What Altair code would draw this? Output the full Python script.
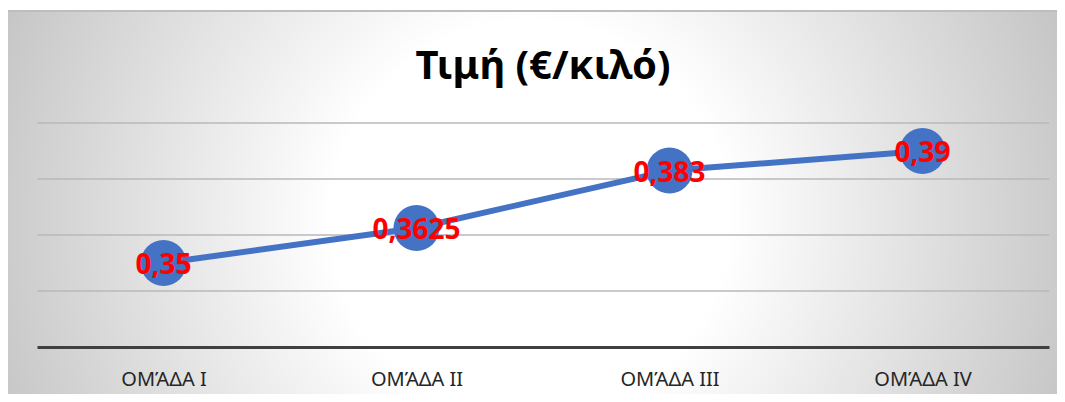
import altair as alt
import pandas as pd

categories = ["ΟΜΆΔΑ I", "ΟΜΆΔΑ II", "ΟΜΆΔΑ III", "ΟΜΆΔΑ IV"]
values = [0.35, 0.3625, 0.383, 0.39]
labels = ["0,35", "0,3625", "0,383", "0,39"]
grid_values = [0.34, 0.36, 0.38, 0.40]
title_text = ["Τιμή (€/κιλό)"]

df = pd.DataFrame({"cat": categories, "val": values, "lab": labels})
grid_df = pd.DataFrame({"g": grid_values})
one = pd.DataFrame({"a": [0]})
title_df = pd.DataFrame({"t": title_text})

W, H = 1012, 224
yscale = alt.Scale(domain=[0.32, 0.40], nice=False, zero=False)
xscale = alt.Scale(type="point", padding=0.5)

# decorative radial background (square so the gradient is circular)
bg = alt.Chart(one).mark_rect(
    fill={
        "gradient": "radial",
        "x1": 0.5, "y1": 0.5, "r1": 0,
        "x2": 0.5, "y2": 0.5, "r2": 0.5,
        "stops": [
            {"offset": 0, "color": "#ffffff"},
            {"offset": 0.33, "color": "#ffffff"},
            {"offset": 1, "color": "#c0c0c0"},
        ],
    }
).encode(
    x=alt.value(-107), x2=alt.value(1093), y=alt.value(-503), y2=alt.value(697)
)

top_cover = alt.Chart(one).mark_rect(fill="#ffffff").encode(
    x=alt.value(-40), x2=alt.value(1040), y=alt.value(-120), y2=alt.value(-113)
)
top_border = alt.Chart(one).mark_rule(color="#bdbdbd", strokeWidth=2).encode(
    x=alt.value(-30), x2=alt.value(1030), y=alt.value(-112)
)

title = alt.Chart(title_df).mark_text(
    font="Noto Sans", fontSize=40, fontWeight="bold", color="#000000",
    align="center", baseline="middle"
).encode(x=alt.value(W / 2), y=alt.value(-56), text="t:N")

grid = alt.Chart(grid_df).mark_rule(color="#b8b8b8", strokeWidth=1.5).encode(
    y=alt.Y("g:Q", scale=yscale, axis=None)
)

xenc = alt.X(
    "cat:N", sort=categories, scale=xscale,
    axis=alt.Axis(
        title=None, domainColor="#404040", domainWidth=3, ticks=False,
        labelPadding=22, labelFontSize=20, labelFont="Noto Sans",
        labelColor="#262626", labelAngle=0, grid=False, zindex=1,
    ),
)
yenc = alt.Y("val:Q", scale=yscale, axis=None)

line = alt.Chart(df).mark_line(
    color="#4472C4", strokeWidth=6, strokeCap="round", strokeJoin="round"
).encode(x=xenc, y=yenc)

pts = alt.Chart(df).mark_point(
    filled=True, shape="circle", size=2116, color="#4472C4", opacity=1
).encode(x=alt.X("cat:N", sort=categories, scale=xscale), y=yenc)

txt = alt.Chart(df).mark_text(
    font="Noto Sans", fontSize=28, fontWeight="bold", color="#ff0000",
    align="center", baseline="middle", dy=3
).encode(x=alt.X("cat:N", sort=categories, scale=xscale), y=yenc, text="lab:N")

chart = alt.layer(bg, top_cover, top_border, title, grid, line, pts, txt).properties(
    width=W, height=H,
    autosize=alt.AutoSizeParams(type="none"),
    padding={"left": 29, "top": 115, "right": 8, "bottom": 47},
    background="#ffffff",
).configure_view(stroke=None)

chart.save("out.html", embed_options={"renderer": "svg", "actions": False})
